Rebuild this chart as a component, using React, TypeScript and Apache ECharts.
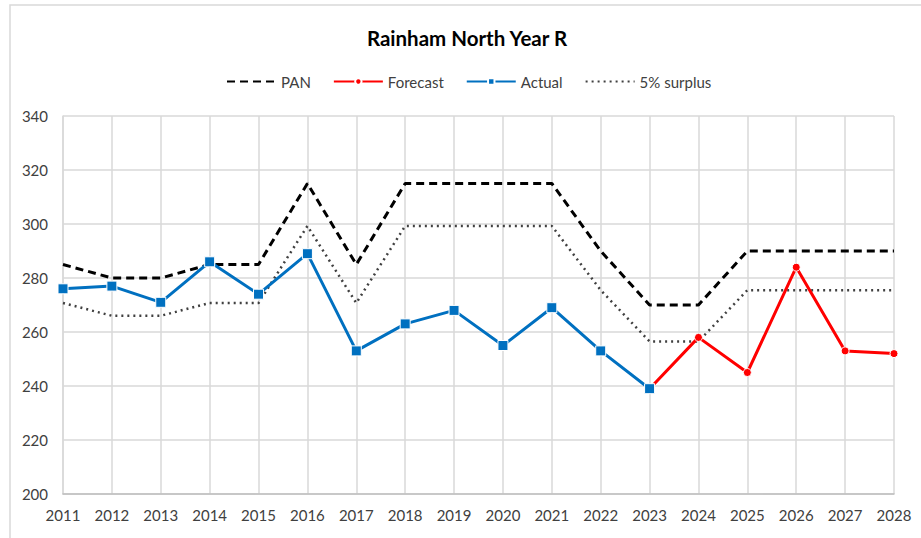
import React, { useEffect, useRef } from "react";
import * as echarts from "echarts";

const years = ["2011","2012","2013","2014","2015","2016","2017","2018","2019","2020","2021","2022","2023","2024","2025","2026","2027","2028"];
const pan = [285, 280, 280, 285, 285, 315, 285, 315, 315, 315, 315, 290, 270, 270, 290, 290, 290, 290];
const forecast = [null, null, null, null, null, null, null, null, null, null, null, null, 239, 258, 245, 284, 253, 252];
const actual = [276, 277, 271, 286, 274, 289, 253, 263, 268, 255, 269, 253, 239, null, null, null, null, null];
const surplus = [270.75, 266, 266, 270.75, 270.75, 299.25, 270.75, 299.25, 299.25, 299.25, 299.25, 275.5, 256.5, 256.5, 275.5, 275.5, 275.5, 275.5];

const FONT = "Lato, 'Open Sans', sans-serif";

export default function App() {
  const ref = useRef<HTMLDivElement>(null);
  useEffect(() => {
    if (!ref.current) return;
    const chart = echarts.init(ref.current, undefined, { renderer: "svg" });
    chart.setOption({
      animation: false,
      backgroundColor: "#ffffff",
      textStyle: { fontFamily: FONT },
      title: {
        text: "Rainham North Year R",
        left: 462,
        textAlign: "center",
        top: 22,
        textStyle: { fontFamily: FONT, fontSize: 20.5, fontWeight: "bold", color: "#000000" },
      },
      legend: {
        top: 69,
        left: 221,
        itemWidth: 49,
        itemHeight: 8,
        itemGap: 22,
        textStyle: { fontFamily: FONT, fontSize: 15, color: "#404040" },
        data: [
          { name: "PAN", itemStyle: { opacity: 0 } },
          { name: "Forecast" },
          { name: "Actual" },
          { name: "5% surplus", itemStyle: { opacity: 0 } },
        ],
      },
      graphic: [
        {
          type: "rect",
          shape: { x: 10, y: 5, width: 1200, height: 1200 },
          style: { fill: "none", stroke: "#d9d9d9", lineWidth: 1.5 },
          silent: true,
          z: -10,
        },
      ],
      grid: { left: 63, right: 27, top: 116, bottom: 44, containLabel: false },
      xAxis: {
        type: "category",
        data: years,
        boundaryGap: false,
        axisLine: { lineStyle: { color: "#bfbfbf", width: 1.5 } },
        axisTick: { show: false },
        axisLabel: { fontFamily: FONT, fontSize: 15, color: "#404040", margin: 13 },
        splitLine: { show: true, lineStyle: { color: "#d9d9d9", width: 1.5 } },
      },
      yAxis: {
        type: "value",
        min: 200,
        max: 340,
        interval: 20,
        axisLine: { show: true, lineStyle: { color: "#d9d9d9", width: 1.5 } },
        axisTick: { show: false },
        axisLabel: { fontFamily: FONT, fontSize: 15, color: "#404040", margin: 15 },
        splitLine: { show: true, lineStyle: { color: "#d9d9d9", width: 1.5 } },
      },
      series: [
        {
          name: "PAN",
          type: "line",
          data: pan,
          symbol: "none",
          lineStyle: { color: "#000000", width: 3, type: [8, 5] },
          itemStyle: { color: "#000000" },
          z: 2,
        },
        {
          name: "Forecast",
          type: "line",
          data: forecast,
          symbol: "circle",
          symbolSize: 8,
          showSymbol: true,
          lineStyle: { color: "#ff0000", width: 3 },
          itemStyle: { color: "#ff0000", borderColor: "#ffffff", borderWidth: 1 },
          z: 3,
        },
        {
          name: "Actual",
          type: "line",
          data: actual,
          symbol: "rect",
          symbolSize: 10,
          lineStyle: { color: "#0070c0", width: 3 },
          itemStyle: { color: "#0070c0", borderColor: "#ffffff", borderWidth: 1 },
          z: 4,
        },
        {
          name: "5% surplus",
          type: "line",
          data: surplus,
          symbol: "none",
          lineStyle: { color: "#404040", width: 2.5, type: [2, 4] },
          itemStyle: { color: "#404040" },
          z: 1,
        },
      ],
    });
    return () => chart.dispose();
  }, []);
  return (
    <div
      ref={ref}
      style={{ position: "fixed", left: 0, top: 0, width: 921, height: 538, background: "#fff" }}
    />
  );
}
